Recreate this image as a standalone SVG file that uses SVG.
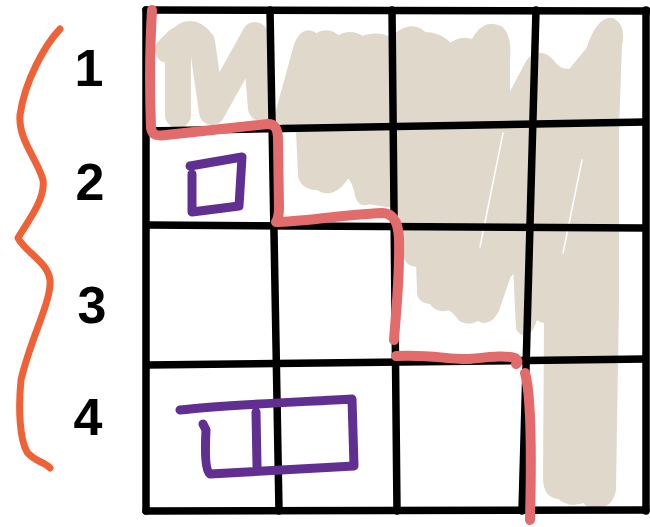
<svg xmlns="http://www.w3.org/2000/svg" width="650" height="527" viewBox="0 0 650 527">
<style>
.beige{fill:#e0d8cb;stroke:#e0d8cb;stroke-width:8;stroke-linejoin:round}
.bstroke{fill:none;stroke:#e0d8cb;stroke-width:26;stroke-linecap:round;stroke-linejoin:round}
.gap{fill:none;stroke:#fff;stroke-width:1.5;stroke-linecap:round}
.grid{fill:none;stroke:#000;stroke-width:7.5;stroke-linecap:round}
.red{fill:none;stroke:#e26b6b;stroke-width:10;stroke-linecap:round;stroke-linejoin:round}
.purple{fill:none;stroke:#612f91;stroke-width:9;stroke-linecap:round;stroke-linejoin:round}
.brace{fill:none;stroke:#ef6136;stroke-width:7;stroke-linecap:round;stroke-linejoin:round}
.num{font-family:"Liberation Sans",Arial,sans-serif;font-size:52px;font-weight:bold;fill:#000;text-anchor:middle}
</style>
<rect width="650" height="527" fill="#fff"/>
<g id="shading">
<path class="bstroke" d="M168,50 L178,40 L178,115 M178,42 Q190,26 202,42 L212,112 L255,35 L261,108"/>
<path class="beige" d="M278,118 L298,45 Q305,28 316,38 Q328,30 338,40 Q350,32 362,40 Q378,34 392,42 Q410,22 424,36 Q440,36 450,48 Q462,38 474,44 Q484,22 500,30 Q508,38 506,60 L506,108 L530,62 Q540,52 550,62 Q560,76 572,72 L590,50 Q600,20 612,22 Q622,28 618,45 L615,130 L615,300 L612,490 Q608,506 598,502 Q592,510 585,498 Q570,505 560,495 Q548,495 547,480 L548,318 Q540,322 536,310 Q528,340 520,328 L517,264 L507,275 L495,310 Q487,324 478,316 Q470,322 462,318 Q455,308 448,306 Q438,310 432,300 Q420,300 421,290 L420,262 Q410,265 407,255 L406,228 L400,205 L368,200 Q360,205 358,190 Q352,170 345,176 Q332,196 318,186 Q305,186 302,176 L300,130 Z"/>
<path class="gap" d="M503,133 L480,247 M582,160 L563,253"/>
</g>
<g id="grid">
<path class="grid" d="M146,10 L648,11 M147,131 L645,122 M147,225 L645,228 M147,365 L645,359 M146,511 L646,510"/>
<path class="grid" d="M146,10 L146,511 M270,10 L279,511 M392,10 L397,511 M536,10 L522,511 M646,10 L646,511"/>
</g>
<g id="boundary">
<path class="red" d="M152,10 C149,60 150,100 151,128 C152,136 158,136 166,135 L268,124 C276,124 278,130 278,140 L279,208 C279,218 276,222 276,222 C300,222 340,215 382,213 C392,213 398,220 399,238 C400,280 396,310 394,340"/>
<path class="red" d="M396,356 C430,354 450,360 470,359 C490,357 505,355 515,358 C518,360 518,363 516,364"/>
<path class="red" d="M525,373 C530,390 532,440 530,520"/>
</g>
<g id="shape-small">
<path class="purple" d="M190,166 L242,157 L239,206 L192,212 L192,174"/>
</g>
<g id="shape-large">
<path class="purple" d="M180,410 C220,405 300,402 352,399 L354,466 L210,474 C205,470 205,450 206,430 L203,424 M256,412 L257,466"/>
</g>
<g id="brace">
<path class="brace" d="M60,29 C45,45 25,80 20,115 C18,140 38,160 43,180 C46,200 25,225 18,238 C25,252 48,262 50,280 C52,300 30,340 21,380 C18,410 20,440 27,452 C35,462 45,462 50,468"/>
</g>
<g id="labels">
<text class="num" x="89" y="86">1</text>
<text class="num" x="90" y="200">2</text>
<text class="num" x="92" y="323">3</text>
<text class="num" x="88" y="435">4</text>
</g>
</svg>
